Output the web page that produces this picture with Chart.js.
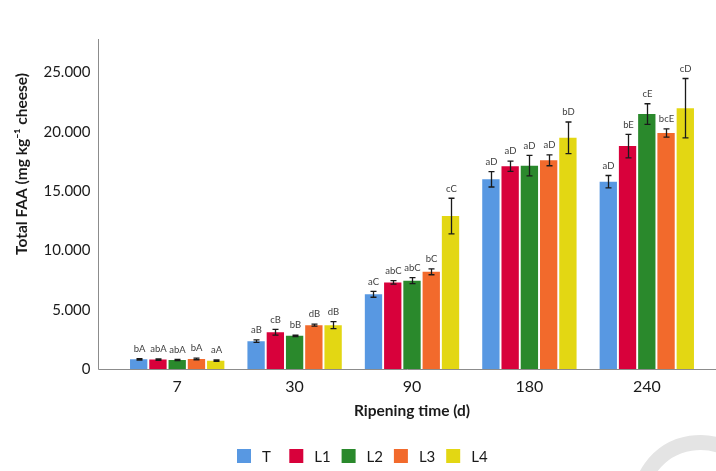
<!DOCTYPE html>
<html>
<head>
<meta charset="utf-8">
<script src="https://cdn.jsdelivr.net/npm/chart.js@4.4.1/dist/chart.umd.min.js"></script>
<style>
  html, body { margin: 0; padding: 0; background: #fff; }
  #wrap { width: 716px; height: 471px; position: relative; }
</style>
</head>
<body>
<div id="wrap"><canvas id="grafico"></canvas></div>
<script>
// Datos
const dias = ['7', '30', '90', '180', '240'];
const marcasY = [0, 5000, 10000, 15000, 20000, 25000];

const serieT  = [820, 2350, 6300, 16000, 15800];
const serieL1 = [800, 3100, 7300, 17100, 18800];
const serieL2 = [760, 2800, 7450, 17150, 21500];
const serieL3 = [850, 3700, 8200, 17600, 19900];
const serieL4 = [700, 3700, 12900, 19500, 22000];

const errT  = [60, 100, 250, 650, 520];
const errL1 = [60, 250, 150, 430, 990];
const errL2 = [50, 60, 250, 870, 870];
const errL3 = [70, 80, 250, 460, 350];
const errL4 = [60, 300, 1500, 1330, 2500];

const letrasT  = ['bA', 'aB', 'aC', 'aD', 'aD'];
const letrasL1 = ['abA', 'cB', 'abC', 'aD', 'bE'];
const letrasL2 = ['abA', 'bB', 'abC', 'aD', 'cE'];
const letrasL3 = ['bA', 'dB', 'bC', 'aD', 'bcE'];
const letrasL4 = ['aA', 'dB', 'cC', 'bD', 'cD'];

const series = [
    { label: 'T',  data: serieT,  err: errT,  letras: letrasT,  color: '#5898e2' },
    { label: 'L1', data: serieL1, err: errL1, letras: letrasL1, color: '#d8013b' },
    { label: 'L2', data: serieL2, err: errL2, letras: letrasL2, color: '#2a892c' },
    { label: 'L3', data: serieL3, err: errL3, letras: letrasL3, color: '#f26a2c' },
    { label: 'L4', data: serieL4, err: errL4, letras: letrasL4, color: '#e3d713' }
];

const FUENTE = 'Lato, "Open Sans", sans-serif';

// Barras de error, letras, ejes, leyenda y título del eje Y
const extras = {
    id: 'extras',
    beforeDraw(chart) {
        // marca gris de fondo (esquina inferior derecha)
        const ctx = chart.ctx;
        ctx.save();
        ctx.strokeStyle = '#e4e4e4';
        ctx.lineWidth = 15;
        ctx.beginPath();
        ctx.arc(700, 503, 60.5, Math.PI * 0.95, Math.PI * 2);
        ctx.stroke();
        ctx.restore();
    },
    afterDatasetsDraw(chart) {
        const ctx = chart.ctx;
        const y = chart.scales.y;
        const area = chart.chartArea;
        ctx.save();

        // líneas de los ejes
        ctx.strokeStyle = '#8c8c8c';
        ctx.lineWidth = 1;
        ctx.beginPath();
        ctx.moveTo(98.5, area.top + 2);
        ctx.lineTo(98.5, area.bottom + 0.5);
        ctx.lineTo(716, area.bottom + 0.5);
        ctx.stroke();

        series.forEach((s, i) => {
            const meta = chart.getDatasetMeta(i);
            meta.data.forEach((bar, j) => {
                const x = Math.round(bar.x) + 0.5;
                const yAlto = y.getPixelForValue(s.data[j] + s.err[j]);
                const yBajo = y.getPixelForValue(s.data[j] - s.err[j]);
                ctx.strokeStyle = '#1a1a1a';
                ctx.lineWidth = 1.3;
                ctx.beginPath();
                ctx.moveTo(x, yAlto);
                ctx.lineTo(x, yBajo);
                ctx.moveTo(x - 3, yAlto);
                ctx.lineTo(x + 3, yAlto);
                ctx.moveTo(x - 3, yBajo);
                ctx.lineTo(x + 3, yBajo);
                ctx.stroke();

                ctx.fillStyle = '#404040';
                ctx.font = '9.5px ' + FUENTE;
                ctx.textAlign = 'center';
                ctx.textBaseline = 'bottom';
                ctx.fillText(s.letras[j], x, yAlto - 5);
            });
        });

        // leyenda
        ctx.font = '15px ' + FUENTE;
        ctx.textAlign = 'left';
        ctx.textBaseline = 'middle';
        series.forEach((s, i) => {
            const x0 = 237 + i * 52.3;
            ctx.fillStyle = s.color;
            ctx.fillRect(x0, 449, 14, 14);
            ctx.fillStyle = '#1a1a1a';
            ctx.fillText(s.label, x0 + 25, 457);
        });

        // título del eje Y
        ctx.translate(22, 164);
        ctx.rotate(-Math.PI / 2);
        ctx.fillStyle = '#1a1a1a';
        ctx.font = 'bold 15.5px ' + FUENTE;
        ctx.textAlign = 'center';
        ctx.textBaseline = 'middle';
        ctx.fillText('Total FAA (mg kg\u207B\u00B9 cheese)', 0, 0);
        ctx.restore();
    }
};

const ctx = document.getElementById('grafico').getContext('2d');
new Chart(ctx, {
    type: 'bar',
    data: {
        labels: dias,
        datasets: series.map(s => ({
            label: s.label,
            data: s.data,
            backgroundColor: s.color,
            borderWidth: 0,
            categoryPercentage: 0.82,
            barPercentage: 0.9
        }))
    },
    options: {
        responsive: true,
        maintainAspectRatio: false,
        animation: false,
        layout: { padding: { left: 0, right: 10.5, top: 5, bottom: 0 } },
        plugins: {
            legend: { display: false },
            tooltip: { enabled: false }
        },
        scales: {
            x: {
                offset: true,
                grid: { display: false, drawTicks: false },
                border: { display: false },
                ticks: { color: '#1a1a1a', font: { family: FUENTE, size: 16 }, padding: 8 },
                title: {
                    display: true,
                    text: 'Ripening time (d)',
                    color: '#1a1a1a',
                    font: { family: FUENTE, size: 15.5, weight: 'bold' },
                    padding: { top: 0, bottom: 50.5 }
                },
                afterFit(scale) { scale.height = 102; }
            },
            y: {
                min: 0,
                max: 28000,
                grid: { display: false, drawTicks: false },
                border: { display: false },
                ticks: {
                    padding: 28,
                    color: '#1a1a1a',
                    font: { family: FUENTE, size: 15 },
                    callback: v => v === 0 ? '0' : v.toLocaleString('de-DE')
                },
                afterBuildTicks(scale) { scale.ticks = marcasY.map(v => ({ value: v })); },
                afterFit(scale) { scale.width = 118.5; }
            }
        }
    },
    plugins: [extras]
});
</script>
</body>
</html>
